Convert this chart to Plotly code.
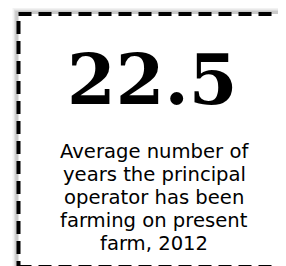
import plotly.graph_objects as go

value = 22.5
label_lines = ["Average number of", "years the principal", "operator has been",
               "farming on present", "farm, 2012"]

W, H = 286, 266

def px(x):
    return x / W

def py(y):
    return 1 - y / H

fig = go.Figure()

X0, X1, Y0, Y1 = 10.5, 280.5, 6, 259
shapes = []
# soft shadow
for w, op in [(12, 0.05), (9, 0.07), (6.5, 0.10)]:
    shapes.append(dict(type="rect", xref="paper", yref="paper",
                       x0=px(X0), x1=px(X1), y0=py(Y1), y1=py(Y0),
                       line=dict(color=f"rgba(0,0,0,{op})", width=w)))
shapes.append(dict(type="rect", xref="paper", yref="paper",
                   x0=px(X0), x1=px(X1), y0=py(Y1), y1=py(Y0),
                   fillcolor="white",
                   line=dict(color="black", width=4, dash="13px,7px")))

annotations = [
    dict(text=f"<b>{value}</b>", xref="paper", yref="paper",
         x=px(144), y=py(71), xanchor="center", yanchor="middle",
         showarrow=False,
         font=dict(family="DejaVu Serif", size=70, color="black")),
]
for i, line in enumerate(label_lines):
    annotations.append(dict(
        text=line, xref="paper", yref="paper",
        x=px(146), y=py(143 + 23 * i), xanchor="center", yanchor="middle",
        showarrow=False, borderpad=0,
        font=dict(family="DejaVu Sans", size=19.6, color="black")))

fig.update_layout(
    width=W, height=H,
    margin=dict(l=0, r=0, t=0, b=0),
    paper_bgcolor="white", plot_bgcolor="white",
    xaxis=dict(visible=False), yaxis=dict(visible=False),
    shapes=shapes, annotations=annotations,
    showlegend=False,
)

fig.write_html("out.html")
